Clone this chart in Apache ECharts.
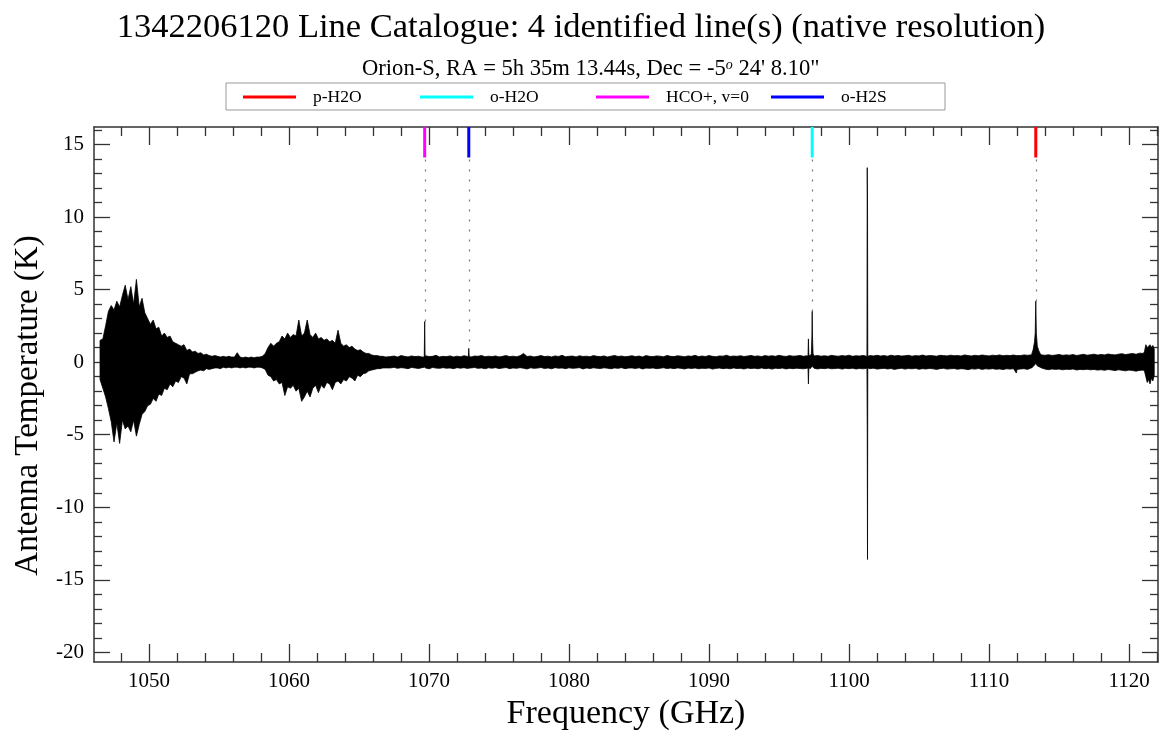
<!DOCTYPE html>
<html><head><meta charset="utf-8">
<script src="https://cdn.jsdelivr.net/npm/echarts@6/dist/echarts.min.js"></script>
<style>html,body{margin:0;padding:0;background:#fff}#chart{width:1162px;height:732px}</style>
</head><body><div id="chart"></div>
<script>
const titleText = '1342206120 Line Catalogue: 4 identified line(s) (native resolution)';
const subtitleText = 'Orion-S, RA = 5h 35m 13.44s, Dec = -5{sup|o} 24\' 8.10"';
const xName = 'Frequency (GHz)';
const yName = 'Antenna Temperature (K)';

const xMin = 1046.07, xMax = 1122.07;
const yMin = -20.66, yMax = 16.2;
const xMajorTicks = [1050, 1060, 1070, 1080, 1090, 1100, 1110, 1120];
const xMinorTicks = [1048, 1052, 1054, 1056, 1058, 1062, 1064, 1066, 1068, 1072, 1074, 1076, 1078,
  1082, 1084, 1086, 1088, 1092, 1094, 1096, 1098, 1102, 1104, 1106, 1108, 1112, 1114, 1116, 1118, 1122];
const yMajorTicks = [-20, -15, -10, -5, 0, 5, 10, 15];
const yMinorTicks = [-19, -18, -17, -16, -14, -13, -12, -11, -9, -8, -7, -6, -4, -3, -2, -1,
  1, 2, 3, 4, 6, 7, 8, 9, 11, 12, 13, 14, 16];

// spectrum envelope (max / min of the noisy trace)
const burstStart = 1046.5, burstStep = 0.2;
const burstHigh = [1.5,1.6,2.5,3.5,3.9,3.6,4.2,3.8,4.6,5.3, 4.3,5.2,4.0,5.7,3.8,4.4,3.4,3.0,2.6,2.9,
  2.3,2.4,1.8,2.0,1.7,1.8,1.4,1.3,1.2,1.1, 1.2,0.8,0.9,0.7,0.75,0.6,0.65,0.5,0.55,0.45,
  0.4,0.45,0.4,0.35,0.4,0.35,0.4,0.35,0.35,0.65, 0.35,0.3,0.35,0.3,0.35,0.3,0.35,0.35,0.4,0.6,
  1.0,1.3,1.1,1.3,1.4,1.8,1.6,2.0,1.7,1.9, 1.8,2.9,1.8,2.0,2.9,1.9,1.7,2.0,1.6,1.7,
  1.5,1.6,1.4,1.5,1.3,2.2,1.3,1.1,1.2,1.0, 1.1,0.9,0.8,0.85,0.7,0.6,0.6,0.5,0.45,0.45,
  0.4,0.4,0.35];
const burstLow = [-1.2,-1.8,-2.4,-3.2,-4.1,-5.5,-4.2,-5.6,-4.0,-4.6, -4.4,-4.8,-4.0,-5.1,-4.3,-3.6,-3.4,-3.0,-2.9,-2.5,
  -2.7,-2.2,-2.3,-1.8,-1.9,-1.5,-1.7,-1.3,-1.4,-1.0, -1.1,-1.5,-0.8,-0.8,-0.7,-0.6,-0.55,-0.6,-0.45,-0.5,
  -0.45,-0.4,-0.4,-0.45,-0.35,-0.4,-0.35,-0.4,-0.35,-0.35, -0.4,-0.35,-0.4,-0.35,-0.35,-0.4,-0.35,-0.35,-0.4,-0.5,
  -0.9,-1.0,-1.3,-1.2,-1.5,-1.4,-2.3,-1.7,-1.8,-1.6, -2.0,-1.8,-2.7,-2.4,-2.0,-2.4,-1.8,-1.6,-2.1,-1.6,
  -1.8,-1.4,-1.5,-1.9,-1.4,-1.3,-1.5,-1.2,-1.3,-1.0, -1.1,-1.3,-0.9,-1.0,-0.8,-0.75,-0.6,-0.55,-0.5,-0.45,
  -0.45,-0.4,-0.4];

const baseStart = 1067.25, baseStep = 0.25;
const baseHigh = [
  0.38,0.42,0.35,0.45,0.4,0.36,0.43,0.38,0.41,0.35,0.44,0.38,0.4,0.47,0.36,0.4,0.38,0.43,0.36,0.41,
  0.37,0.44,0.39,0.35,0.42,0.4,0.46,0.37,0.41,0.38,0.43,0.36,0.4,0.45,0.38,0.41,0.37,0.44,0.6,0.39,
  0.42,0.36,0.4,0.45,0.38,0.41,0.36,0.43,0.39,0.47,0.37,0.4,0.42,0.36,0.44,0.39,0.41,0.37,0.45,0.4,
  0.38,0.43,0.36,0.41,0.46,0.39,0.42,0.37,0.4,0.44,0.38,0.42,0.36,0.45,0.4,0.38,0.43,0.41,0.37,0.46,
  0.4,0.38,0.44,0.41,0.37,0.43,0.4,0.47,0.38,0.42,0.39,0.45,0.4,0.37,0.43,0.41,0.48,0.39,0.42,0.4,
  0.44,0.39,0.42,0.46,0.4,0.43,0.38,0.45,0.41,0.44,0.4,0.47,0.42,0.39,0.45,0.41,0.43,0.46,0.4,0.44,
  0.45,0.42,0.46,0.41,0.44,0.4,0.47,0.43,0.41,0.45,0.42,0.48,0.4,0.44,0.42,0.46,0.41,0.45,0.43,0.47,
  0.42,0.45,0.41,0.48,0.43,0.46,0.42,0.44,0.47,0.41,0.45,0.43,0.49,0.42,0.46,0.44,0.41,0.47,0.45,0.43,
  0.48,0.44,0.46,0.42,0.5,0.45,0.43,0.47,0.44,0.49,0.46,0.43,0.48,0.45,0.5,0.44,0.47,0.45,0.49,0.46,
  0.45,0.5,0.47,0.5,1.4,0.95,0.5,0.47,0.51,0.46,0.49,0.53,0.47,0.5,0.48,0.52,0.46,0.5,0.54,0.48,
  0.51,0.55,0.49,0.53,0.5,0.56,0.52,0.5,0.55,0.58,0.52,0.56,0.6,0.54,0.62];
const baseLow = [
  -0.4,-0.36,-0.43,-0.38,-0.41,-0.45,-0.37,-0.4,-0.44,-0.38,-0.4,-0.46,-0.37,-0.41,-0.43,-0.38,-0.42,-0.4,-0.45,-0.38,
  -0.42,-0.38,-0.44,-0.4,-0.37,-0.43,-0.4,-0.46,-0.39,-0.42,-0.38,-0.44,-0.41,-0.37,-0.45,-0.4,-0.43,-0.38,-0.42,-0.47,
  -0.39,-0.43,-0.41,-0.37,-0.44,-0.4,-0.46,-0.38,-0.42,-0.4,-0.45,-0.39,-0.43,-0.41,-0.38,-0.47,-0.4,-0.44,-0.39,-0.42,
  -0.44,-0.39,-0.42,-0.46,-0.4,-0.43,-0.38,-0.45,-0.41,-0.4,-0.44,-0.39,-0.47,-0.41,-0.43,-0.4,-0.45,-0.42,-0.39,-0.44,
  -0.41,-0.45,-0.4,-0.43,-0.47,-0.41,-0.44,-0.4,-0.46,-0.42,-0.44,-0.4,-0.48,-0.43,-0.41,-0.45,-0.42,-0.46,-0.4,-0.44,
  -0.43,-0.47,-0.41,-0.44,-0.42,-0.46,-0.4,-0.45,-0.43,-0.48,-0.42,-0.44,-0.41,-0.47,-0.43,-0.45,-0.42,-0.44,-0.46,-0.42,
  -0.44,-0.42,-0.47,-0.43,-0.45,-0.41,-0.46,-0.44,-0.42,-0.48,-0.43,-0.45,-0.42,-0.47,-0.44,-0.46,-0.43,-0.45,-0.42,-0.48,
  -0.45,-0.43,-0.47,-0.44,-0.5,-0.45,-0.43,-0.48,-0.44,-0.46,-0.43,-0.49,-0.45,-0.47,-0.44,-0.46,-0.5,-0.45,-0.43,-0.48,
  -0.46,-0.44,-0.49,-0.45,-0.47,-0.52,-0.46,-0.48,-0.44,-0.5,-0.46,-0.48,-0.45,-0.49,-0.47,-0.51,-0.46,-0.48,-0.45,-0.5,
  -0.47,-0.45,-0.5,-0.4,-0.2,-0.3,-0.4,-0.48,-0.52,-0.47,-0.5,-0.48,-0.53,-0.49,-0.51,-0.47,-0.54,-0.5,-0.52,-0.49,
  -0.53,-0.5,-0.55,-0.52,-0.56,-0.51,-0.54,-0.58,-0.53,-0.56,-0.6,-0.55,-0.58,-0.62,-0.57];

const edgeStart = 1121.0, edgeStep = 0.1;
const edgeHigh = [0.6,0.7,1.2,1.0,1.1,1.2,1.0,1.15,0.9];
const edgeLow = [-0.55,-0.6,-1.0,-1.4,-1.2,-1.5,-1.1,-1.3,-0.9];

// narrow spectral features (line peaks, spikes)
const featureFreq = [1069.66,1069.69,1069.72, 1072.81,1072.84,1072.87,
  1097.07,1097.10,1097.13,1097.31,1097.35,1097.37,1097.39,1097.43,
  1101.28,1101.30,1101.32,1101.34, 1111.95,
  1113.05,1113.15,1113.30,1113.34,1113.38,1113.45,1113.55,1113.65];
const featureHigh = [0.35,2.8,0.35, 0.4,0.95,0.4,
  0.4,1.6,0.45,0.6,1.8,3.5,1.8,0.6,
  0.4,13.4,11.3,0.4, 0.45,
  0.55,0.85,2.0,4.2,2.0,1.1,0.8,0.6];
const featureLow = [-0.35,-0.3,-0.4, -0.35,-0.45,-0.4,
  -0.4,-1.5,-0.4,-0.35,-0.3,-0.2,-0.3,-0.35,
  -0.4,-4.4,-13.6,-0.4, -0.75,
  -0.4,-0.3,-0.15,-0.1,-0.15,-0.25,-0.3,-0.35];

// line catalogue
const lineNames = ['p-H2O', 'o-H2O', 'HCO+, v=0', 'o-H2S'];
const lineFreqs = [1113.34, 1097.37, 1069.69, 1072.84];
const linePeaks = [4.2, 3.5, 2.8, 0.95];
const lineColors = ['#ff0000', '#00ffff', '#ff00ff', '#0000ff'];
const markerBottom = 14.1;

const FONT = 'Liberation Serif';
const legendLefts = [243, 420, 596, 771];

function buildEnvelope() {
  const pts = [];
  burstHigh.forEach((h, i) => pts.push([burstStart + i * burstStep, h, burstLow[i]]));
  baseHigh.forEach((h, i) => pts.push([baseStart + i * baseStep, h, baseLow[i]]));
  edgeHigh.forEach((h, i) => pts.push([edgeStart + i * edgeStep, h, edgeLow[i]]));
  featureFreq.forEach((f, i) => pts.push([f, featureHigh[i], featureLow[i]]));
  pts.sort((a, b) => a[0] - b[0]);
  return pts;
}
const envelope = buildEnvelope();

const axisColor = '#333';
function xAxisDef(pos, major, showLine, showLabel) {
  return {
    type: 'value', position: pos, min: xMin, max: xMax,
    axisLine: { show: showLine, onZero: false, lineStyle: { color: axisColor, width: 1.5 } },
    axisTick: { show: true, inside: true, length: major ? 18 : 9,
      customValues: major ? xMajorTicks : xMinorTicks, lineStyle: { color: axisColor, width: 1.3 } },
    axisLabel: showLabel ? { show: true, customValues: xMajorTicks, formatter: v => String(v),
      fontFamily: FONT, fontSize: 21, color: '#000', margin: 9 } : { show: false },
    splitLine: { show: false },
    name: showLabel ? xName : '', nameLocation: 'middle', nameGap: 28,
    nameTextStyle: { fontFamily: FONT, fontSize: 34, color: '#000' }
  };
}
function yAxisDef(pos, major, showLine, showLabel) {
  return {
    type: 'value', position: pos, min: yMin, max: yMax,
    axisLine: { show: showLine, onZero: false, lineStyle: { color: axisColor, width: 1.5 } },
    axisTick: { show: true, inside: true, length: major ? 16 : 8,
      customValues: major ? yMajorTicks : yMinorTicks, lineStyle: { color: axisColor, width: 1.3 } },
    axisLabel: showLabel ? { show: true, customValues: yMajorTicks, formatter: v => String(v),
      fontFamily: FONT, fontSize: 21, color: '#000', margin: 10 } : { show: false },
    splitLine: { show: false },
    name: showLabel ? yName : '', nameLocation: 'middle', nameGap: 43,
    nameTextStyle: { fontFamily: FONT, fontSize: 33, color: '#000', padding: [0, 22, 0, 0] }
  };
}

const chart = echarts.init(document.getElementById('chart'), null, { renderer: 'canvas' });

const series = [];
series.push({
  type: 'custom', name: 'spectrum', xAxisIndex: 0, yAxisIndex: 0, silent: true, z: 3,
  data: [[envelope[0][0], envelope[0][1]]],
  encode: { x: 0, y: 1 },
  renderItem: function (params, api) {
    const pts = [];
    for (let i = 0; i < envelope.length; i++) pts.push(api.coord([envelope[i][0], envelope[i][1]]));
    for (let i = envelope.length - 1; i >= 0; i--) pts.push(api.coord([envelope[i][0], envelope[i][2]]));
    return { type: 'polygon', shape: { points: pts }, style: { fill: '#000', stroke: '#000', lineWidth: 0.8 } };
  }
});
series.push({
  type: 'custom', name: 'guides', xAxisIndex: 0, yAxisIndex: 0, silent: true, z: 2,
  data: lineFreqs.map((f, i) => [f, linePeaks[i]]),
  encode: { x: 0, y: 1 },
  renderItem: function (params, api) {
    const a = api.coord([api.value(0), markerBottom]);
    const b = api.coord([api.value(0), api.value(1)]);
    return { type: 'line', shape: { x1: Math.round(a[0]) + 0.5, y1: a[1] + 2, x2: Math.round(b[0]) + 0.5, y2: b[1] },
      style: { stroke: '#777', lineWidth: 1.2, lineDash: [2, 8] } };
  }
});
lineNames.forEach((n, i) => {
  series.push({
    type: 'line', name: n, xAxisIndex: 0, yAxisIndex: 0, silent: true, z: 5,
    data: [[lineFreqs[i], yMax], [lineFreqs[i], markerBottom]],
    symbol: 'none', lineStyle: { color: lineColors[i], width: 3 }, itemStyle: { color: lineColors[i] }
  });
});

chart.setOption({
  animation: false,
  backgroundColor: '#fff',
  title: [
    { text: titleText, left: 'center', top: 5,
      textStyle: { fontFamily: FONT, fontSize: 34.5, fontWeight: 'normal', color: '#000' } },
    { text: subtitleText, left: 357, top: 53,
      textStyle: { fontFamily: FONT, fontSize: 22.6, fontWeight: 'normal', color: '#000',
        rich: { sup: { fontFamily: FONT, fontSize: 14, fontStyle: 'italic', verticalAlign: 'top', color: '#000' } } } }
  ],
  legend: lineNames.map((n, i) => ({
    data: [n], left: legendLefts[i], top: 88, padding: 0, icon: 'rect', itemWidth: 53, itemHeight: 3,
    selectedMode: false,
    textStyle: { fontFamily: FONT, fontSize: 17.5, color: '#000', padding: [0, 0, 0, 12] }
  })),
  graphic: [
    { type: 'rect', shape: { x: 226, y: 83, width: 719, height: 27 }, style: { fill: 'none', stroke: '#999', lineWidth: 1 }, silent: true, z: -1 }
  ],
  grid: { left: 94, right: 4, top: 127, bottom: 70, containLabel: false, outerBoundsMode: 'none' },
  xAxis: [
    xAxisDef('bottom', true, true, true),
    xAxisDef('bottom', false, false, false),
    xAxisDef('top', true, true, false),
    xAxisDef('top', false, false, false)
  ],
  yAxis: [
    yAxisDef('left', true, true, true),
    yAxisDef('left', false, false, false),
    yAxisDef('right', true, true, false),
    yAxisDef('right', false, false, false)
  ],
  series: series
});
</script>
</body></html>
